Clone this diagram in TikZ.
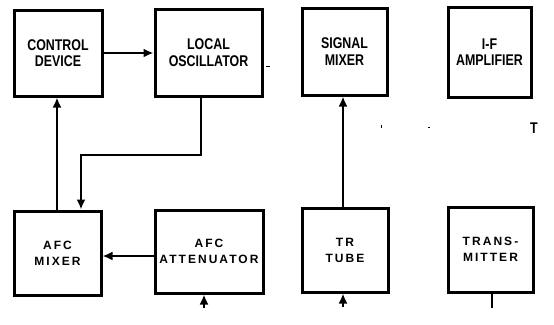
\documentclass[tikz,border=0pt]{standalone}
\usepackage{fontspec}
\setmainfont{Liberation Sans}
\newfontfamily\topfont[FakeStretch=0.8]{Liberation Sans}
\newfontfamily\spacedfont[LetterSpace=17]{Liberation Sans}
\usetikzlibrary{arrows.meta}
\begin{document}
\begin{tikzpicture}[x=1pt,y=-1pt,
  blk/.style={draw,line width=3pt,rectangle,align=center,inner sep=0pt},
  toplbl/.style={font=\topfont\bfseries\fontsize{15.5}{16.5}\selectfont},
  botlbl/.style={font=\spacedfont\bfseries\fontsize{12}{16}\selectfont},
  conn/.style={line width=2.5pt},
  arr/.style={conn,-{Latex[length=10pt,width=9pt]}}]
\useasboundingbox (0,0) rectangle (554,324);
% top row
\node[blk,toplbl,minimum width=88pt,minimum height=86pt] (control) at (58,53) {CONTROL\\DEVICE};
\node[blk,toplbl,minimum width=107pt,minimum height=87pt] (lo) at (208.5,52.5) {LOCAL\\OSCILLATOR};
\node[blk,toplbl,minimum width=85pt,minimum height=87pt] (sigmix) at (344.5,51.5) {SIGNAL\\MIXER};
\node[blk,toplbl,minimum width=83pt,minimum height=90pt] (ifamp) at (489.5,52) {I-F\\AMPLIFIER};
% bottom row
\node[blk,botlbl,minimum width=87pt,minimum height=84pt] (afcmix) at (57.5,253) {AFC\\MIXER};
\node[blk,botlbl,minimum width=108pt,minimum height=83pt] (afcatt) at (209,251.5) {AFC\\ATTENUATOR};
\node[blk,botlbl,minimum width=86pt,minimum height=84pt] (tr) at (345,250) {TR\\TUBE};
\node[blk,botlbl,minimum width=85pt,minimum height=85pt] (tx) at (490.5,249.5) {TRANS-\\MITTER};
% stray marks
\node[toplbl] (tmark) at (534,128) {T};
\draw[line width=1.4pt] ([xshift=2pt,yshift=-14pt]lo.east) -- ([xshift=6pt,yshift=-14pt]lo.east);
\coordinate (m1) at (381,125);
\coordinate (m2) at (428,127);
\draw[line width=1pt] (m1) -- ++(0,3);
\draw[line width=1pt] (m2) -- ++(2,0);
% connectors
\draw[arr] (control.east) -- (control.east -| lo.west);
\draw[arr] ([xshift=-0.5pt]afcmix.north) -- ([xshift=-0.5pt]afcmix.north |- control.south);
\coordinate (bend) at (81,155);
\draw[arr] ([xshift=-7.5pt]lo.south) |- (bend) -- (bend |- afcmix.north);
\draw[arr] ([yshift=-4.5pt]afcatt.west) -- ([yshift=-4.5pt]afcatt.west -| afcmix.east);
\coordinate (attin) at (204,308);
\draw[arr] (attin) -- (attin |- afcatt.south);
\draw[arr] ([xshift=-2pt]tr.north) -- ([xshift=-2pt]tr.north |- sigmix.south);
\coordinate (trin) at (343,307);
\draw[arr] (trin) -- (trin |- tr.south);
\coordinate (txout) at (492,308);
\draw[conn] (tx.south -| txout) -- (txout);
\end{tikzpicture}
\end{document}
